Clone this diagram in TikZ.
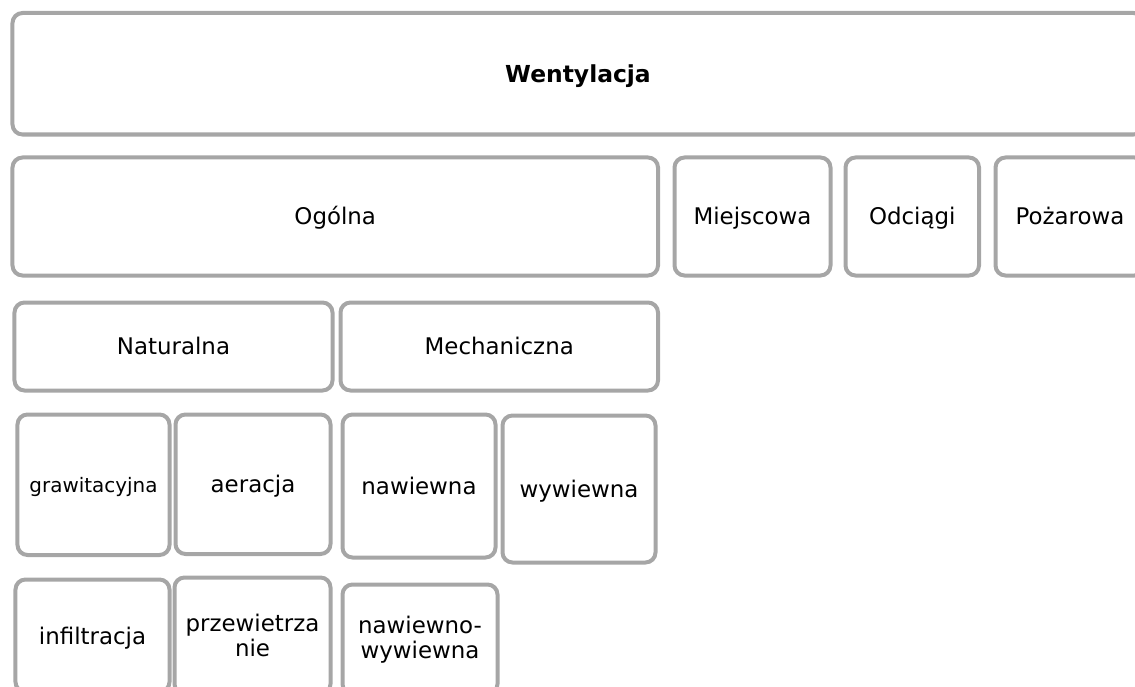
\documentclass[tikz,border=0pt]{standalone}
\usepackage{fontspec}
\setmainfont{DejaVu Sans}
\definecolor{boxgray}{HTML}{A6A6A6}
\tikzset{
  box/.style={draw=boxgray, line width=4bp, rounded corners=10bp, fill=white,
    inner sep=0pt, align=center, font=\fontsize{23}{25}\selectfont, text=black},
  oneline/.style={text height=21.8bp, text depth=5bp},
  small/.style={font=\fontsize{20}{23}\selectfont, text height=19.6bp, text depth=5bp},
  title/.style={font=\fontsize{23.5}{26}\selectfont\bfseries, text height=22bp, text depth=5bp}
}
\begin{document}
\begin{tikzpicture}[x=1bp,y=-1bp]
\useasboundingbox (0,0) rectangle (1135,687);
\clip (0,0) rectangle (1135,687);
\node[box,title,minimum width=1131bp,minimum height=121.5bp] (went) at (578,73.75) {Wentylacja};
\node[box,oneline,minimum width=645.5bp,minimum height=118bp] (ogolna) at (335.25,216.5) {Ogólna};
\node[box,oneline,minimum width=156bp,minimum height=118bp] (miejscowa) at (752.5,216.5) {Miejscowa};
\node[box,oneline,minimum width=133.5bp,minimum height=118bp] (odciagi) at (912.25,216.5) {Odciągi};
\node[box,oneline,minimum width=149bp,minimum height=118bp] (pozarowa) at (1070,216.5) {Pożarowa};
\node[box,oneline,minimum width=318bp,minimum height=88bp] (naturalna) at (173.5,346.5) {Naturalna};
\node[box,oneline,minimum width=317.5bp,minimum height=88bp] (mechaniczna) at (499.25,346.5) {Mechaniczna};
\node[box,small,minimum width=152bp,minimum height=140.5bp] (grawitacyjna) at (93.5,484.75) {grawitacyjna};
\node[box,oneline,minimum width=155bp,minimum height=139.5bp] (aeracja) at (253,484.25) {aeracja};
\node[box,oneline,minimum width=153bp,minimum height=143bp] (nawiewna) at (419,486) {nawiewna};
\node[box,oneline,minimum width=153bp,minimum height=147bp] (wywiewna) at (579,489) {wywiewna};
\node[box,oneline,minimum width=154bp,minimum height=112.5bp] (infiltracja) at (92.5,635.75) {infiltracja};
\node[box,minimum width=156bp,minimum height=116.5bp] (przewietrzanie) at (252.5,635.75) {przewietrza\\nie};
\node[box,minimum width=155bp,minimum height=109.5bp] (nawiewnowywiewna) at (420,639.25) {nawiewno-\\wywiewna};
\end{tikzpicture}
\end{document}
